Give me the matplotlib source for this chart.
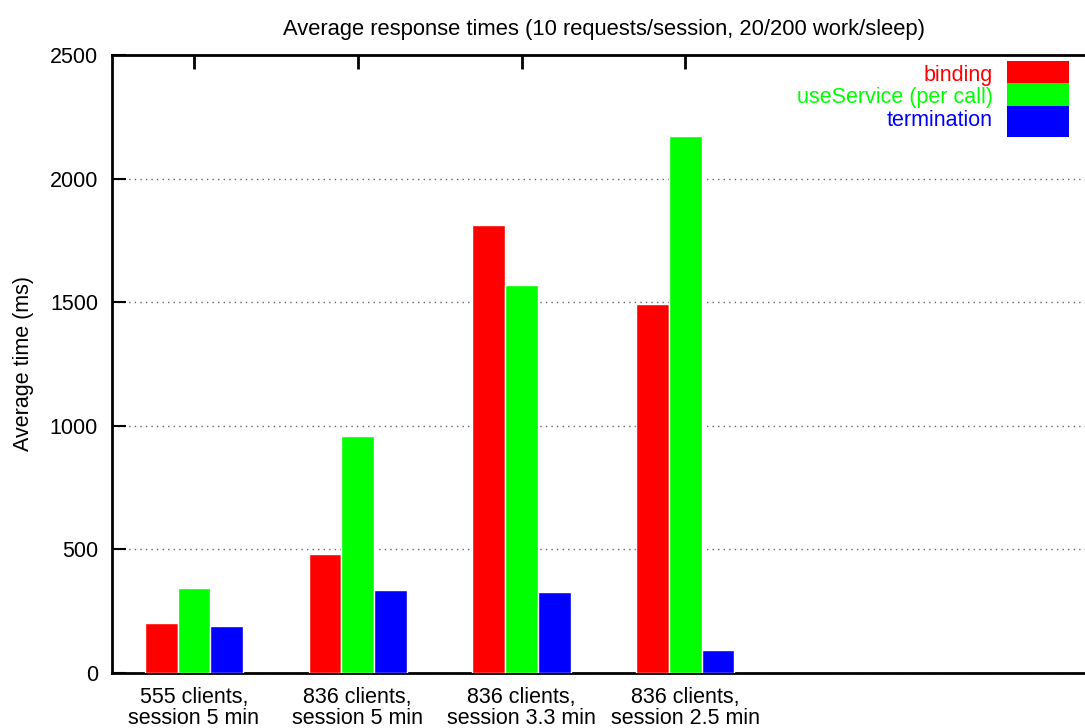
import numpy as np
import matplotlib
matplotlib.use('Agg')
from matplotlib import pyplot as plt
from matplotlib.patches import Rectangle

plt.rcParams['font.family'] = ['Liberation Sans', 'DejaVu Sans']

groups = ['555 clients,\nsession 5 min', '836 clients,\nsession 5 min',
          '836 clients,\nsession 3.3 min', '836 clients,\nsession 2.5 min']
series = ['binding', 'useService (per call)', 'termination']
colors = ['#ff0000', '#00ff00', '#0000ff']
binding = [203, 479, 1813, 1491]
use_service = [341, 959, 1570, 2172]
termination = [189, 336, 326, 90]
values = [binding, use_service, termination]

fs = 15.5

fig = plt.figure(figsize=(10.85, 7.28), dpi=100)
ax = fig.add_axes([112 / 1085, 1 - 672.7 / 728, 1 - 112 / 1085, (672.7 - 55) / 728])

x = np.arange(len(groups))
w = 0.2
for i, (vals, c) in enumerate(zip(values, colors)):
    ax.bar(x + (i - 1) * w, vals, w, color=c, edgecolor='white', linewidth=1, zorder=3)

ax.set_xlim(-0.5, 5.44)
ax.set_ylim(0, 2500)
ax.set_yticks([0, 500, 1000, 1500, 2000, 2500])
ax.yaxis.grid(True, linestyle=(0, (1, 3)), color='#666666', linewidth=1)
ax.set_axisbelow(True)

ax.spines['right'].set_visible(False)
for s in ['left', 'top', 'bottom']:
    ax.spines[s].set_linewidth(2)

ax.tick_params(axis='y', direction='in', length=10, width=1.5, pad=10, labelsize=fs)
ax.set_xticks(x)
ax.set_xticklabels(groups, fontsize=fs, linespacing=1.05)
ax.tick_params(axis='x', direction='in', length=10, width=2, pad=10,
               top=True, bottom=False, labeltop=False)

ax.set_ylabel('Average time (ms)', fontsize=fs, labelpad=11)
fig.text(604 / 1085, 1 - 30 / 728, 'Average response times (10 requests/session, 20/200 work/sleep)',
         ha='center', va='center', fontsize=15.8)

# key in the top right corner
box_l, box_w, row_h, top = 1006.5, 62.5, 22.5, 60.5
for i, (name, c) in enumerate(zip(series, colors)):
    y0 = top + i * row_h
    h = row_h if i < 2 else 31
    fig.patches.append(Rectangle((box_l / 1085, 1 - (y0 + h) / 728), box_w / 1085, h / 728,
                                 transform=fig.transFigure, facecolor=c, edgecolor='none'))
    fig.text(993 / 1085, 1 - (y0 + 14.5) / 728, name, color=c, ha='right', va='center',
             fontsize=fs)

fig.savefig('out.png', dpi=100)
